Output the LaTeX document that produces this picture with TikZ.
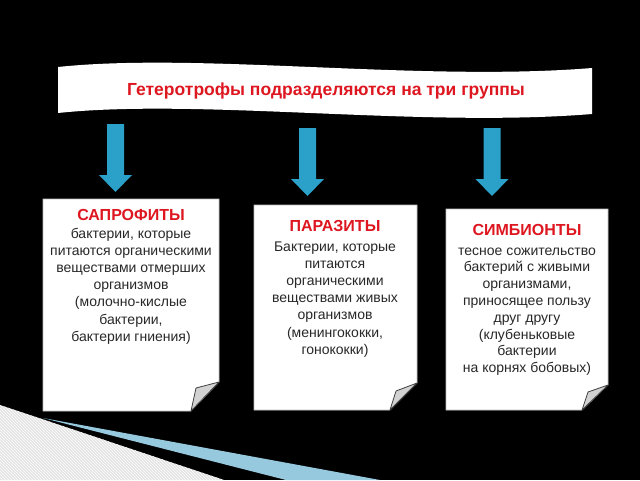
\documentclass[tikz,border=0pt]{standalone}
\usepackage{fontspec}
\setmainfont{Liberation Sans}
\usetikzlibrary{patterns}
\definecolor{titlered}{RGB}{222,22,32}
\definecolor{arrowblue}{RGB}{43,160,200}
\definecolor{wedgeblue}{RGB}{150,200,222}
\definecolor{bodytext}{RGB}{40,40,40}
\begin{document}
\begin{tikzpicture}[x=1pt,y=-1pt,
  page/.style={fill=white,draw=gray!50,line width=0.6pt},
  curl/.style={fill=gray!35,draw=gray!50!black,line width=0.8pt,line join=round},
  bodytxt/.style={align=center,font=\fontsize{14}{17.2}\selectfont,text=bodytext,inner sep=0pt,anchor=north},
  bannertxt/.style={font=\fontsize{17.5}{20}\selectfont\bfseries,text=titlered,inner sep=0pt},
  downarr/.pic={\fill[arrowblue] (-8.5,0) -- (8.5,0) -- (8.5,51) -- (16.5,51) -- (0,68) -- (-16.5,51) -- (-8.5,51) -- cycle;}]
\fill[black] (0,0) rectangle (640,480);
\useasboundingbox (0,0) rectangle (640,480);
% bottom-left decoration
\fill[gray!22] (0,405) -- (224,480) -- (0,480) -- cycle;
\fill[pattern=north west lines,pattern color=white] (0,405) -- (224,480) -- (0,480) -- cycle;
\fill[wedgeblue] (43,418) -- (380,480) -- (286,480) -- cycle;
% banner
\fill[white] (58,67) .. controls (200,52) and (420,82) .. (592,68) -- (592,114) .. controls (420,128) and (200,98) .. (58,113) -- cycle;
\node[bannertxt] (banner) at (326,91) {Гетеротрофы подразделяются на три группы};
% arrows
\pic at (115.5,124) {downarr};
\pic at (307.5,128) {downarr};
\pic at (492,128) {downarr};
% pages
\filldraw[page] (43,199) -- (219,199) -- (219,382) -- (191,411) -- (43,411) -- cycle;
\filldraw[curl] (191,411) -- (196,388) -- (219,382) -- cycle;
\filldraw[page] (254,205) -- (417,205) -- (417,383) -- (390,410) -- (254,410) -- cycle;
\filldraw[curl] (390,410) -- (396,391) -- (417,383) -- cycle;
\filldraw[page] (446,209) -- (608,209) -- (608,385) -- (582,410) -- (446,410) -- cycle;
\filldraw[curl] (582,410) -- (588,392) -- (608,385) -- cycle;
% texts
\node[bodytxt] (sapro) at (131,209.5) {\textcolor{titlered}{\bfseries\fontsize{16}{17.2}\selectfont САПРОФИТЫ}\\бактерии, которые\\питаются органическими\\веществами отмерших\\организмов\\(молочно-кислые\\бактерии,\\бактерии гниения)};
\node[bodytxt] (para) at (335,220) {\textcolor{titlered}{\bfseries\fontsize{16}{17.2}\selectfont ПАРАЗИТЫ}\\[2.5pt]Бактерии, которые\\питаются\\органическими\\веществами живых\\организмов\\(менингококки,\\гонококки)};
\node[bodytxt,font=\fontsize{14}{16.8}\selectfont] (symb) at (527,224) {\textcolor{titlered}{\bfseries\fontsize{16}{16.8}\selectfont СИМБИОНТЫ}\\[3pt]тесное сожительство\\бактерий с живыми\\организмами,\\приносящее пользу\\друг другу\\(клубеньковые\\бактерии\\на корнях бобовых)};
\end{tikzpicture}
\end{document}
